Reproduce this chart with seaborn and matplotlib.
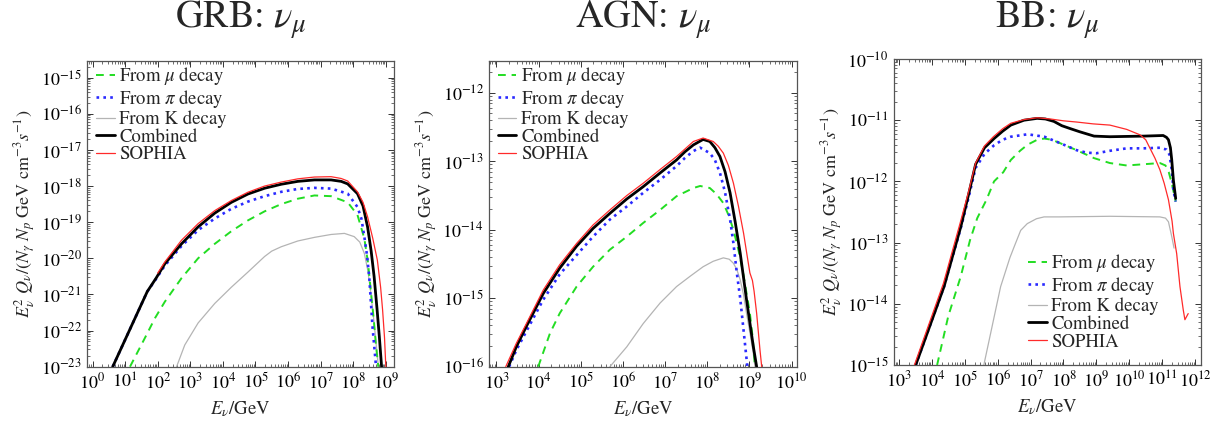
import numpy as np
import pandas as pd
import matplotlib
matplotlib.use("Agg")
import matplotlib.pyplot as plt
import matplotlib.ticker as mticker
import seaborn as sns

# ---------------- data (log10 E/GeV, log10 E^2 Q) ----------------
# GRB
grb_comb_x = [0.62, 1.68, 1.95, 2.22, 2.73, 3.24, 3.75, 4.26, 4.77, 5.28, 5.79, 6.30, 6.81, 7.32, 7.63, 7.83, 8.13, 8.30, 8.44, 8.55, 8.64, 8.73, 8.80, 8.87]
grb_comb_y = [-23.0, -20.92, -20.55, -20.15, -19.60, -19.13, -18.75, -18.45, -18.22, -18.06, -17.95, -17.87, -17.83, -17.83, -17.87, -17.94, -18.21, -18.55, -19.13, -19.80, -20.50, -21.40, -22.16, -23.0]
grb_soph_x = [2.0, 2.22, 2.73, 3.24, 3.75, 4.26, 4.77, 5.28, 5.79, 6.30, 6.81, 7.32, 7.63, 7.83, 8.13, 8.30, 8.44, 8.60, 8.74, 8.84, 8.90, 8.96, 9.0]
grb_soph_y = [-20.41, -20.10, -19.50, -19.04, -18.68, -18.40, -18.17, -18.00, -17.89, -17.80, -17.75, -17.74, -17.79, -17.86, -18.16, -18.45, -18.85, -19.45, -20.05, -20.80, -21.42, -22.20, -23.0]
grb_pi_x = [0.62, 1.68, 1.95, 2.22, 2.73, 3.24, 3.75, 4.26, 4.77, 5.28, 5.79, 6.30, 6.81, 7.32, 7.83, 8.13, 8.25, 8.34, 8.42, 8.49, 8.59, 8.70]
grb_pi_y = [-23.0, -20.92, -20.57, -20.20, -19.66, -19.22, -18.90, -18.63, -18.43, -18.28, -18.16, -18.08, -18.05, -18.07, -18.21, -18.58, -18.90, -19.40, -19.90, -20.50, -21.88, -23.0]
grb_mu_x = [1.15, 1.61, 1.92, 2.22, 2.73, 3.24, 3.75, 4.26, 4.77, 5.28, 5.79, 6.30, 6.81, 7.32, 7.83, 8.13, 8.34, 8.45, 8.54, 8.63, 8.70, 8.77]
grb_mu_y = [-23.0, -22.20, -21.65, -21.20, -20.55, -20.00, -19.60, -19.25, -18.95, -18.70, -18.50, -18.35, -18.26, -18.28, -18.45, -18.80, -19.45, -20.10, -20.90, -21.70, -22.43, -23.0]
grb_k_x = [2.58, 2.83, 3.24, 3.75, 4.26, 4.77, 5.28, 5.50, 5.79, 6.30, 6.81, 7.32, 7.73, 8.03, 8.20, 8.34, 8.45, 8.54, 8.63, 8.70, 8.77]
grb_k_y = [-23.0, -22.40, -21.79, -21.25, -20.80, -20.38, -19.95, -19.80, -19.68, -19.52, -19.42, -19.34, -19.31, -19.40, -19.55, -19.86, -20.35, -20.96, -21.70, -22.34, -23.0]

# AGN
agn_comb_x = [3.28, 3.47, 3.71, 4.11, 4.50, 4.90, 5.29, 5.69, 6.09, 6.48, 6.88, 7.27, 7.47, 7.67, 7.90, 8.06, 8.18, 8.30, 8.42, 8.54, 8.66, 8.78, 8.93, 9.09, 9.17]
agn_comb_y = [-16.0, -15.71, -15.41, -14.93, -14.56, -14.24, -13.98, -13.76, -13.55, -13.37, -13.17, -12.98, -12.86, -12.76, -12.68, -12.71, -12.80, -12.93, -13.15, -13.46, -13.88, -14.34, -15.02, -15.70, -16.0]
agn_soph_x = [3.22, 3.47, 3.71, 4.11, 4.50, 4.90, 5.29, 5.69, 6.09, 6.48, 6.88, 7.27, 7.47, 7.67, 7.90, 8.14, 8.26, 8.38, 8.50, 8.62, 8.74, 8.86, 8.95, 9.01, 9.07, 9.11, 9.17, 9.25, 9.29]
agn_soph_y = [-16.0, -15.66, -15.37, -14.88, -14.51, -14.20, -13.93, -13.71, -13.50, -13.32, -13.12, -12.93, -12.82, -12.71, -12.66, -12.71, -12.78, -12.88, -13.06, -13.32, -13.66, -14.05, -14.40, -14.63, -14.74, -14.90, -15.22, -15.76, -16.0]
agn_pi_x = [3.30, 3.47, 3.71, 4.11, 4.50, 4.90, 5.29, 5.69, 6.09, 6.48, 6.88, 7.27, 7.47, 7.67, 7.83, 8.06, 8.18, 8.30, 8.42, 8.54, 8.62, 8.70, 8.78, 8.85, 8.95]
agn_pi_y = [-16.0, -15.76, -15.48, -15.02, -14.65, -14.37, -14.10, -13.85, -13.66, -13.46, -13.27, -13.07, -12.95, -12.85, -12.80, -12.88, -12.98, -13.17, -13.45, -13.85, -14.20, -14.63, -15.00, -15.41, -16.0]
agn_mu_x = [3.99, 4.27, 4.50, 4.90, 5.29, 5.69, 6.09, 6.48, 6.88, 7.27, 7.67, 7.83, 8.06, 8.22, 8.38, 8.50, 8.62, 8.74, 8.85, 9.01, 9.08, 9.13]
agn_mu_y = [-16.0, -15.51, -15.22, -14.83, -14.54, -14.29, -14.10, -13.90, -13.71, -13.51, -13.39, -13.36, -13.39, -13.48, -13.61, -13.78, -14.00, -14.30, -14.63, -15.22, -15.60, -16.0]
agn_k_x = [5.69, 6.09, 6.48, 6.88, 7.27, 7.59, 7.90, 8.14, 8.38, 8.52, 8.62, 8.70, 8.78, 8.86, 8.93, 9.01, 9.09, 9.13]
agn_k_y = [-16.0, -15.71, -15.37, -15.07, -14.83, -14.68, -14.54, -14.46, -14.41, -14.43, -14.49, -14.58, -14.73, -14.95, -15.22, -15.50, -15.80, -16.0]

# BB
bb_comb_x = [3.51, 4.37, 4.88, 5.10, 5.33, 5.60, 5.89, 6.15, 6.40, 6.80, 7.20, 7.45, 7.71, 7.95, 8.22, 8.50, 8.93, 9.41, 10.43, 11.03, 11.13, 11.19, 11.25, 11.29, 11.34, 11.41]
bb_comb_y = [-15.0, -13.72, -12.74, -12.25, -11.72, -11.45, -11.30, -11.18, -11.08, -11.00, -10.97, -10.98, -11.02, -11.09, -11.14, -11.19, -11.26, -11.27, -11.26, -11.25, -11.28, -11.32, -11.45, -11.65, -11.98, -12.28]
bb_soph_x = [3.47, 4.35, 4.85, 5.10, 5.33, 5.60, 5.87, 6.15, 6.40, 6.80, 7.20, 7.60, 8.00, 8.40, 8.90, 9.41, 9.92, 10.33, 10.50, 10.63, 10.78, 10.93, 11.06, 11.19, 11.30, 11.34, 11.44, 11.54, 11.64, 11.69, 11.79]
bb_soph_y = [-15.0, -13.67, -12.70, -12.20, -11.70, -11.42, -11.27, -11.14, -11.05, -10.99, -10.96, -10.98, -11.01, -11.03, -11.06, -11.08, -11.15, -11.24, -11.32, -11.46, -11.62, -11.81, -12.03, -12.30, -12.65, -12.85, -13.18, -13.72, -14.10, -14.26, -14.16]
bb_pi_x = [3.51, 4.37, 4.88, 5.10, 5.33, 5.60, 5.89, 6.15, 6.40, 6.91, 7.42, 7.92, 8.40, 8.70, 9.00, 9.41, 9.92, 10.43, 10.93, 11.13, 11.22, 11.29, 11.34, 11.41]
bb_pi_y = [-15.0, -13.72, -12.76, -12.30, -11.78, -11.55, -11.41, -11.32, -11.27, -11.23, -11.27, -11.38, -11.49, -11.53, -11.54, -11.50, -11.46, -11.46, -11.45, -11.48, -11.56, -11.81, -12.14, -12.33]
bb_mu_x = [4.16, 4.50, 4.88, 5.16, 5.38, 5.66, 5.89, 6.17, 6.40, 6.68, 6.91, 7.20, 7.42, 7.65, 7.92, 8.40, 8.93, 9.41, 9.92, 10.43, 10.93, 11.10, 11.20, 11.29, 11.41]
bb_mu_y = [-15.0, -14.20, -13.55, -12.96, -12.60, -12.30, -12.00, -11.85, -11.65, -11.50, -11.40, -11.32, -11.30, -11.32, -11.38, -11.49, -11.62, -11.70, -11.74, -11.72, -11.70, -11.74, -11.85, -12.03, -12.33]
bb_k_x = [5.58, 6.09, 6.37, 6.50, 6.70, 6.90, 7.18, 7.41, 7.89, 9.41, 10.93, 11.10, 11.19, 11.29, 11.36]
bb_k_y = [-15.0, -13.72, -13.25, -13.07, -12.80, -12.69, -12.61, -12.58, -12.58, -12.57, -12.58, -12.60, -12.66, -12.90, -13.09]

titles = ["GRB: $\\nu_\\mu$", "AGN: $\\nu_\\mu$", "BB: $\\nu_\\mu$"]
labels = ["From $\\mu$ decay", "From $\\pi$ decay", "From K decay", "Combined", "SOPHIA"]
x_decades = [list(range(0, 10)), list(range(3, 11)), list(range(3, 13))]
y_decades = [list(range(-23, -14)), list(range(-16, -11)), list(range(-15, -9))]

panels = [
    dict(mu=(grb_mu_x, grb_mu_y), pi=(grb_pi_x, grb_pi_y), k=(grb_k_x, grb_k_y),
         comb=(grb_comb_x, grb_comb_y), soph=(grb_soph_x, grb_soph_y)),
    dict(mu=(agn_mu_x, agn_mu_y), pi=(agn_pi_x, agn_pi_y), k=(agn_k_x, agn_k_y),
         comb=(agn_comb_x, agn_comb_y), soph=(agn_soph_x, agn_soph_y)),
    dict(mu=(bb_mu_x, bb_mu_y), pi=(bb_pi_x, bb_pi_y), k=(bb_k_x, bb_k_y),
         comb=(bb_comb_x, bb_comb_y), soph=(bb_soph_x, bb_soph_y)),
]

# ---------------- style ----------------
sns.set_theme(style="ticks")
plt.rcParams["font.family"] = ["STIXGeneral", "DejaVu Serif"]
plt.rcParams["mathtext.fontset"] = "stix"
plt.rcParams["axes.unicode_minus"] = True

W, H = 1222, 428
fig = plt.figure(figsize=(W / 100, H / 100), dpi=100)

boxes = [(87.3, 394.3, 60.7, 366.7), (489.3, 796.7, 60.7, 366.7), (894.0, 1200.7, 59.0, 365.0)]
xlims = [(-0.16, 9.26), (2.83, 10.12), (2.85, 12.17)]
ylims = [(-23.0, -14.53), (-16.0, -11.53), (-15.0, -10.0)]
leg_pos = [(0.028, 0.985), (0.027, 0.985), (0.437, 0.368)]

styles = {
    "mu": dict(color="#22dd22", lw=1.4, dashes=(4.0, 3.0)),
    "pi": dict(color="#2a2aff", lw=1.9, dashes=(1.0, 1.6)),
    "k": dict(color="#b4b4b4", lw=0.9),
    "comb": dict(color="black", lw=2.0),
    "soph": dict(color="#ff2a2a", lw=0.9),
}
order = ["mu", "pi", "k", "comb", "soph"]
zorders = {"k": 2, "mu": 3, "pi": 4, "comb": 5, "soph": 6}


def minor_positions(lo, hi):
    out = []
    for d in range(int(np.floor(lo)) - 1, int(np.ceil(hi)) + 1):
        for s in range(2, 10):
            v = d + np.log10(s)
            if lo <= v <= hi:
                out.append(10.0 ** v)
    return out


for i, p in enumerate(panels):
    l, r, t, b = boxes[i]
    ax = fig.add_axes([l / W, (H - b) / H, (r - l) / W, (b - t) / H])
    for key, lab in zip(order, labels):
        xs, ys = p[key]
        df = pd.DataFrame({"E": 10.0 ** np.array(xs), "Q": 10.0 ** np.array(ys)})
        st = styles[key]
        sns.lineplot(data=df, x="E", y="Q", ax=ax, color=st["color"], lw=st["lw"],
                     label=lab, sort=False, estimator=None, zorder=zorders[key])
        ln = ax.get_lines()[-1]
        if "dashes" in st:
            ln.set_dashes(st["dashes"])
            ln.set_dash_capstyle("butt")
    ax.set_xscale("log")
    ax.set_yscale("log")
    ax.set_xlim(10 ** xlims[i][0], 10 ** xlims[i][1])
    ax.set_ylim(10 ** ylims[i][0], 10 ** ylims[i][1])
    ax.xaxis.set_major_locator(mticker.FixedLocator([10.0 ** d for d in x_decades[i]]))
    ax.yaxis.set_major_locator(mticker.FixedLocator([10.0 ** d for d in y_decades[i]]))
    ax.xaxis.set_major_formatter(mticker.FixedFormatter(["$10^{%d}$" % d for d in x_decades[i]]))
    ax.yaxis.set_major_formatter(mticker.FixedFormatter(["$10^{%d}$" % d for d in y_decades[i]]))
    ax.xaxis.set_minor_locator(mticker.FixedLocator(minor_positions(*xlims[i])))
    ax.yaxis.set_minor_locator(mticker.FixedLocator(minor_positions(*ylims[i])))
    ax.xaxis.set_minor_formatter(mticker.NullFormatter())
    ax.yaxis.set_minor_formatter(mticker.NullFormatter())
    ax.tick_params(which="both", direction="in", top=True, right=True, labelsize=13,
                   colors="#333333", labelcolor="black")
    ax.tick_params(which="major", length=4.5, width=0.7, pad=4)
    ax.tick_params(which="minor", length=2.3, width=0.5)
    for s in ax.spines.values():
        s.set_color("#555555")
        s.set_linewidth(0.9)
    ax.set_xlabel("$E_\\nu/\\mathrm{GeV}$", fontsize=13.5)
    ax.set_ylabel("$E_\\nu^2\\ Q_\\nu/(N_\\gamma\\ N_p\\ \\mathrm{GeV\\ cm}^{-3}s^{-1})$", fontsize=13)
    ax.xaxis.label.set_va("center")
    ax.yaxis.label.set_va("center")
    ax.xaxis.set_label_coords(0.5, -0.138)
    ax.yaxis.set_label_coords(-0.203, 0.5)
    ax.grid(False)
    ax.legend(loc="upper left", bbox_to_anchor=leg_pos[i], frameon=False, fontsize=13.5,
              handlelength=1.0, handletextpad=0.25, labelspacing=0.03, borderpad=0,
              borderaxespad=0)
    fig.text(((l + r) / 2) / W, (H - 28) / H, titles[i], ha="center", va="baseline", fontsize=27.5)

fig.savefig("out.png", dpi=100)
